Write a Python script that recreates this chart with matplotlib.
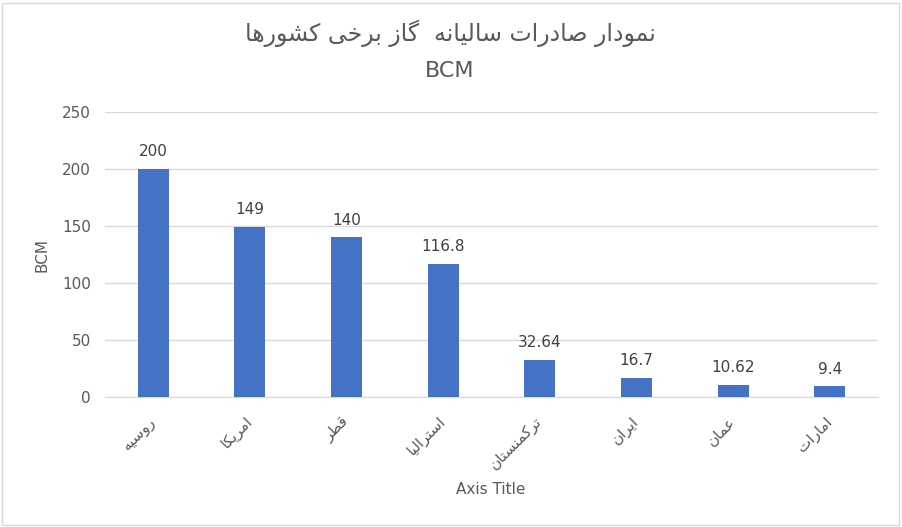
import matplotlib
matplotlib.use("Agg")
import matplotlib.pyplot as plt
from matplotlib.patches import Rectangle

# ---- data ----
categories = ["روسیه", "امریکا", "قطر", "استرالیا", "ترکمنستان", "ایران", "عمان", "امارات"]
values = [200, 149, 140, 116.8, 32.64, 16.7, 10.62, 9.4]
value_labels = ["200", "149", "140", "116.8", "32.64", "16.7", "10.62", "9.4"]
yticks = [0, 50, 100, 150, 200, 250]
title_line1 = "نمودار صادرات سالیانه  گاز برخی کشورها"
title_line2 = "BCM"
y_title = "BCM"
x_title = "Axis Title"

# ---- minimal Arabic/Persian shaping (presentation forms) ----
FORMS = {  # isolated, final, initial, medial
    "\u0627": ("\uFE8D", "\uFE8E", None, None),
    "\u0628": ("\uFE8F", "\uFE90", "\uFE91", "\uFE92"),
    "\u062A": ("\uFE95", "\uFE96", "\uFE97", "\uFE98"),
    "\u062E": ("\uFEA5", "\uFEA6", "\uFEA7", "\uFEA8"),
    "\u062F": ("\uFEA9", "\uFEAA", None, None),
    "\u0631": ("\uFEAD", "\uFEAE", None, None),
    "\u0632": ("\uFEAF", "\uFEB0", None, None),
    "\u0633": ("\uFEB1", "\uFEB2", "\uFEB3", "\uFEB4"),
    "\u0634": ("\uFEB5", "\uFEB6", "\uFEB7", "\uFEB8"),
    "\u0635": ("\uFEB9", "\uFEBA", "\uFEBB", "\uFEBC"),
    "\u0637": ("\uFEC1", "\uFEC2", "\uFEC3", "\uFEC4"),
    "\u0639": ("\uFEC9", "\uFECA", "\uFECB", "\uFECC"),
    "\u0642": ("\uFED5", "\uFED6", "\uFED7", "\uFED8"),
    "\u0644": ("\uFEDD", "\uFEDE", "\uFEDF", "\uFEE0"),
    "\u0645": ("\uFEE1", "\uFEE2", "\uFEE3", "\uFEE4"),
    "\u0646": ("\uFEE5", "\uFEE6", "\uFEE7", "\uFEE8"),
    "\u0647": ("\uFEE9", "\uFEEA", "\uFEEB", "\uFEEC"),
    "\u0648": ("\uFEED", "\uFEEE", None, None),
    "\u06CC": ("\uFBFC", "\uFBFD", "\uFBFE", "\uFBFF"),
    "\u06A9": ("\uFB8E", "\uFB8F", "\uFB90", "\uFB91"),
    "\u06AF": ("\uFB92", "\uFB93", "\uFB94", "\uFB95"),
}


def joins_next(c):
    return c in FORMS and FORMS[c][2] is not None


def shape(text):
    out = []
    n = len(text)
    for i, c in enumerate(text):
        if c not in FORMS:
            out.append(c)
            continue
        prev_j = i > 0 and joins_next(text[i - 1])
        next_j = joins_next(c) and i + 1 < n and text[i + 1] in FORMS
        iso, fin, ini, med = FORMS[c]
        if prev_j and next_j:
            out.append(med)
        elif prev_j:
            out.append(fin)
        elif next_j:
            out.append(ini)
        else:
            out.append(iso)
    return "".join(out)[::-1]


plt.rcParams["font.family"] = ["DejaVu Sans"]

W, H = 902, 527
fig = plt.figure(figsize=(W / 100, H / 100), dpi=100)
fig.patch.set_facecolor("white")
fig.add_artist(Rectangle((2 / W, 2 / H), (W - 5) / W, (H - 5) / H, transform=fig.transFigure,
                         fill=False, edgecolor="#d9d9d9", linewidth=1))

ax = fig.add_axes([105 / W, 1 - 397 / H, (878 - 105) / W, (397 - 112) / H])
x = list(range(len(categories)))
ax.bar(x, values, width=0.32, color="#4472C4", zorder=3)
ax.set_xlim(-0.5, len(categories) - 0.5)
ax.set_ylim(0, 250)
ax.set_yticks(yticks)
ax.set_yticklabels([str(t) for t in yticks], fontsize=11, color="#595959")
ax.yaxis.grid(True, color="#d9d9d9", linewidth=1, zorder=0)
for s in ["top", "right", "left"]:
    ax.spines[s].set_visible(False)
ax.spines["bottom"].set_color("#d9d9d9")
ax.tick_params(axis="y", length=0, pad=10)
ax.tick_params(axis="x", length=0, pad=16)
ax.set_xticks(x)
ax.set_xticklabels([shape(c) for c in categories], rotation=45, rotation_mode="anchor",
                   ha="right", va="center", fontsize=11, color="#595959")

for xi, v, lab in zip(x, values, value_labels):
    ax.annotate(lab, (xi, v), xytext=(0, 7), textcoords="offset points", ha="center",
                va="bottom", fontsize=11, color="#404040")

ax.set_ylabel(y_title, fontsize=11, color="#595959", labelpad=9)
fig.text(491 / W, 1 - 489 / H, x_title, ha="center", va="center", fontsize=11, color="#595959")
fig.text(450 / W, 1 - 33 / H, shape(title_line1), ha="center", va="center", fontsize=17, color="#595959")
fig.text(450 / W, 1 - 71 / H, title_line2, ha="center", va="center", fontsize=16, color="#595959")

fig.savefig("out.png", dpi=100, facecolor="white")
